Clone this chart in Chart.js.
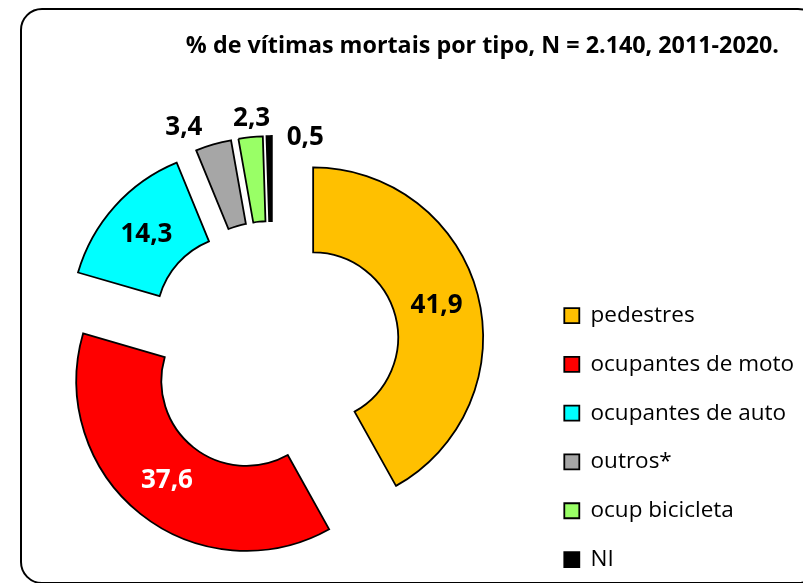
<!DOCTYPE html>
<html lang="pt">
<head>
    <meta charset="UTF-8">
    <title>% de vítimas mortais por tipo</title>
    <style>
        html, body { margin: 0; padding: 0; background: #fff; overflow: hidden; }
        #wrap { position: relative; width: 803px; height: 583px; overflow: hidden; }
        #frame { position: absolute; left: 20px; top: 8px; width: 800px; height: 576px;
                 box-sizing: border-box; border: 2.5px solid #000; border-radius: 22px; }
        #title { position: absolute; right: 24px; top: 33px; margin: 0; font: bold 23.3px/23px "Open Sans", sans-serif;
                 color: #000; white-space: nowrap; }
        canvas { position: absolute; left: 0; top: 0; }
    </style>
    <script src="https://cdn.jsdelivr.net/npm/chart.js"></script>
</head>
<body>
    <div id="wrap">
        <div id="frame"></div>
        <canvas id="chart" width="803" height="696"></canvas>
        <p id="title">% de vítimas mortais por tipo, N = 2.140, 2011-2020.</p>
    </div>

    <script>
        const categories = ["pedestres", "ocupantes de moto", "ocupantes de auto", "outros*", "ocup bicicleta", "NI"];
        const shares = [41.9, 37.6, 14.3, 3.4, 2.3, 0.5];
        const colors = ["#FFC000", "#FF0000", "#00FFFF", "#A6A6A6", "#99FF66", "#000000"];
        const labelColors = ["#000", "#fff", "#000", "#000", "#000", "#000"];

        const explode = 42; // px every slice is pulled away from the centre

        // small slices get their value outside: [extra px past the rim, angle nudge in degrees]
        const outsideLabels = { 3: [26, -6.9], 4: [18, 0.9], 5: [2, 12.1] };

        // Chart.js' own "offset" also grows the radius and trims the angle of each slice,
        // so pull the slices out by moving their centres instead (Excel-style explode)
        const explodeSlices = {
            id: "explodeSlices",
            afterDatasetUpdate(chart, args) {
                args.meta.data.forEach(arc => {
                    const mid = (arc.startAngle + arc.endAngle) / 2;
                    arc.x += Math.cos(mid) * explode;
                    arc.y += Math.sin(mid) * explode;
                });
            }
        };

        const valueLabels = {
            id: "valueLabels",
            afterDatasetsDraw(chart) {
                const ctx = chart.ctx;
                const meta = chart.getDatasetMeta(0);
                ctx.save();
                ctx.font = "bold 26px 'Open Sans', sans-serif";
                ctx.textAlign = "center";
                ctx.textBaseline = "middle";
                meta.data.forEach((arc, i) => {
                    let ang = (arc.startAngle + arc.endAngle) / 2;
                    let dist = (arc.innerRadius + arc.outerRadius) / 2;
                    if (outsideLabels[i]) {
                        dist = arc.outerRadius + outsideLabels[i][0];
                        ang += outsideLabels[i][1] * Math.PI / 180;
                    }
                    ctx.fillStyle = labelColors[i];
                    const txt = shares[i].toFixed(1).replace(".", ",");
                    ctx.fillText(txt, arc.x + Math.cos(ang) * dist, arc.y + Math.sin(ang) * dist);
                });
                ctx.restore();
            }
        };

        new Chart(document.getElementById("chart"), {
            type: "doughnut",
            data: {
                labels: categories,
                datasets: [{
                    data: shares,
                    backgroundColor: colors,
                    borderColor: "#000",
                    borderWidth: 1.8,
                    borderJoinStyle: "miter"
                }]
            },
            options: {
                responsive: false,
                animation: false,
                radius: 170,
                cutout: "50%",
                layout: { padding: { left: 7, right: 3, top: 0, bottom: 0 } },
                plugins: {
                    tooltip: { enabled: false },
                    legend: {
                        position: "right",
                        align: "start",
                        maxWidth: 262,
                        title: { display: true, text: "", padding: { top: 268, bottom: 0 }, font: { size: 10, lineHeight: 1 } },
                        labels: {
                            boxWidth: 15,
                            boxHeight: 15,
                            padding: 26.3,
                            color: "#000",
                            font: { family: "'Open Sans', sans-serif", size: 22.5 }
                        }
                    }
                }
            },
            plugins: [explodeSlices, valueLabels]
        });
    </script>
</body>
</html>
